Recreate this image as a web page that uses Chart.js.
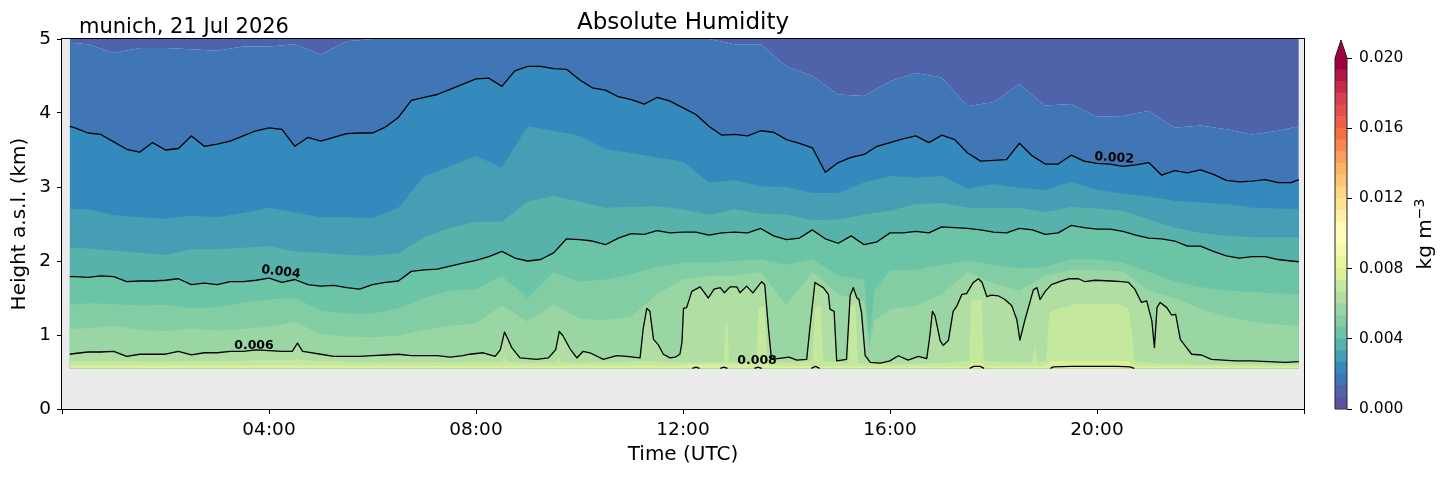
<!DOCTYPE html>
<html>
<head>
<meta charset="utf-8">
<title>Absolute Humidity</title>
<script src="https://cdn.jsdelivr.net/npm/chart.js@4.4.1/dist/chart.umd.min.js"></script>
<style>
body { margin: 0; background: #fff; font-family: 'DejaVu Sans', sans-serif; }
#page { position: relative; width: 1454px; height: 478px; overflow: hidden; }
#mainBox { position: absolute; left: 0; top: 0; width: 1366px; height: 478px; }
#cbBox { position: absolute; left: 1320px; top: 0; width: 134px; height: 478px; }
.txt { position: absolute; white-space: nowrap; color: #000; }
#title { left: 0; width: 1366px; text-align: center; top: 10px; font-size: 23px; line-height: 23px; }
#site { left: 79px; top: 15.6px; font-size: 21px; line-height: 21px; }
#cbLabel { left: 1324px; width: 200px; top: 223.5px; height: 20px; text-align: center; font-size: 20px; line-height: 20px; transform: rotate(-90deg); }
#cbLabel sup { font-size: 70%; line-height: 0; vertical-align: 0.5em; }
</style>
</head>
<body>
<div id="page">
  <div id="mainBox"><canvas id="main" width="1366" height="478"></canvas></div>
  <div id="cbBox"><canvas id="cbar" width="134" height="478"></canvas></div>
  <div class="txt" id="title">Absolute Humidity</div>
  <div class="txt" id="site">munich, 21 Jul 2026</div>
  <div class="txt" id="cbLabel">kg m<sup>−3</sup></div>
</div>
<script>
// station height, data below it is missing (km a.s.l.)
const groundKm = 0.55;

// filled contour levels of the colour bar (kg m-3)
const levels = [0, 0.00067, 0.00133, 0.002, 0.00267, 0.00333, 0.004, 0.00467, 0.00533, 0.006,
  0.00667, 0.00733, 0.008, 0.00867, 0.00933, 0.01, 0.01067, 0.01133, 0.012, 0.01267,
  0.01333, 0.014, 0.01467, 0.01533, 0.016, 0.01667, 0.01733, 0.018, 0.01867, 0.01933, 0.02];

// time axis (hours UTC)
const hoursFine = [0.15, 0.25, 0.5, 0.75,
  1, 1.25, 1.5, 1.75, 2, 2.25, 2.5, 2.75, 3, 3.25, 3.5, 3.75,
  4, 4.25, 4.5, 4.75, 5, 5.25, 5.5, 5.75, 6, 6.25, 6.5, 6.75,
  7, 7.25, 7.5, 7.75, 8, 8.25, 8.5, 8.75, 9, 9.25, 9.5, 9.75,
  10, 10.25, 10.5, 10.75, 11, 11.25, 11.5, 11.75, 12, 12.25, 12.5, 12.75,
  13, 13.25, 13.5, 13.75, 14, 14.25, 14.5, 14.75, 15, 15.25, 15.5, 15.75,
  16, 16.25, 16.5, 16.75, 17, 17.25, 17.5, 17.75, 18, 18.25, 18.5, 18.75,
  19, 19.25, 19.5, 19.75, 20, 20.25, 20.5, 20.75, 21, 21.25, 21.5, 21.75,
  22, 22.25, 22.5, 22.75, 23, 23.25, 23.5, 23.75,
  23.9];

const hoursCoarse = [0.15, 0.5, 1, 1.5, 2, 2.5, 3, 3.5, 4, 4.5,
  5, 5.5, 6, 6.5, 7, 7.5, 8, 8.5, 9, 9.5,
  10, 10.5, 11, 11.5, 12, 12.5, 13, 13.5, 14, 14.5,
  15, 15.5, 16, 16.5, 17, 17.5, 18, 18.5, 19, 19.5,
  20, 20.5, 21, 21.5, 22, 22.5, 23, 23.5, 23.9];

const hoursMid = [0.15, 0.5, 1, 1.5, 2, 2.5, 3, 3.5, 4, 4.5,
  5, 5.5, 6, 6.5, 7, 7.5, 8, 8.5, 9, 9.5,
  10, 10.5, 11, 11.5, 12, 12.5, 13, 13.5, 14, 14.5,
  15, 15.5, 15.6, 15.7, 16, 16.5, 17, 17.5, 18, 18.5,
  19, 19.5, 20, 20.5, 21, 21.5, 22, 22.5, 23, 23.5,
  23.9];

// contour heights (km) for each level
// 0.00133 (edge of the purple band)
const edge2 = [4.95, 4.93, 4.81, 4.88, 4.88, 4.86, 4.84, 4.90, 4.90, 4.93,
  4.79, 4.97, 5.00, 5.00, 5.00, 5.00, 5.00, 5.00, 5.00, 5.00,
  5.00, 5.00, 5.00, 5.00, 5.00, 5.00, 4.93, 4.93, 4.63, 4.50,
  4.25, 4.23, 4.43, 4.54, 4.48, 4.09, 4.15, 4.39, 4.10, 4.12,
  3.95, 3.96, 4.03, 3.80, 3.83, 3.78, 3.71, 3.76, 3.82];

// 0.002 (black line)
const level002 = [3.82, 3.80, 3.73, 3.71,
  3.61, 3.51, 3.47, 3.60, 3.50, 3.52, 3.69, 3.55, 3.58, 3.62, 3.69, 3.76,
  3.80, 3.78, 3.55, 3.67, 3.62, 3.67, 3.72, 3.73, 3.73, 3.81, 3.94, 4.17,
  4.21, 4.25, 4.32, 4.39, 4.46, 4.47, 4.36, 4.57, 4.63, 4.63, 4.60, 4.59,
  4.45, 4.34, 4.31, 4.22, 4.18, 4.12, 4.21, 4.16, 4.07, 3.98, 3.82, 3.70,
  3.71, 3.69, 3.76, 3.74, 3.64, 3.59, 3.53, 3.20, 3.33, 3.40, 3.44, 3.55,
  3.60, 3.65, 3.69, 3.60, 3.70, 3.64, 3.46, 3.35, 3.36, 3.37, 3.59, 3.42,
  3.31, 3.31, 3.43, 3.35, 3.32, 3.31, 3.28, 3.30, 3.33, 3.16, 3.22, 3.19,
  3.23, 3.17, 3.09, 3.07, 3.08, 3.10, 3.06, 3.06,
  3.10];

// 0.00267
const edge4 = [2.70, 2.70, 2.62, 2.59, 2.57, 2.61, 2.59, 2.65, 2.72, 2.66,
  2.59, 2.59, 2.58, 2.72, 3.15, 3.28, 3.42, 3.26, 3.82, 3.76,
  3.69, 3.51, 3.46, 3.40, 3.34, 3.06, 3.09, 3.01, 3.00, 2.92,
  2.92, 3.06, 3.15, 3.13, 3.15, 2.98, 3.04, 2.99, 2.96, 3.07,
  2.96, 2.91, 2.87, 2.81, 2.79, 2.77, 2.72, 2.71, 2.70];

// 0.00333
const edge5 = [2.18, 2.17, 2.14, 2.11, 2.08, 2.16, 2.16, 2.18, 2.20, 2.13,
  2.11, 2.08, 2.07, 2.10, 2.32, 2.45, 2.53, 2.53, 2.80, 2.88,
  2.80, 2.72, 2.73, 2.74, 2.70, 2.62, 2.70, 2.64, 2.63, 2.55,
  2.56, 2.63, 2.68, 2.77, 2.78, 2.72, 2.72, 2.72, 2.66, 2.73,
  2.71, 2.68, 2.56, 2.45, 2.38, 2.34, 2.32, 2.32, 2.32];

// 0.004 (black line)
const level004 = [1.79, 1.79, 1.78, 1.80,
  1.79, 1.72, 1.73, 1.73, 1.74, 1.76, 1.68, 1.70, 1.68, 1.72, 1.72, 1.74,
  1.77, 1.71, 1.75, 1.68, 1.66, 1.67, 1.64, 1.62, 1.68, 1.71, 1.73, 1.86,
  1.88, 1.89, 1.93, 1.97, 2.01, 2.06, 2.13, 2.04, 2.00, 2.02, 2.11, 2.30,
  2.29, 2.27, 2.22, 2.31, 2.37, 2.36, 2.41, 2.38, 2.39, 2.39, 2.35, 2.38,
  2.39, 2.38, 2.44, 2.34, 2.29, 2.31, 2.42, 2.30, 2.24, 2.34, 2.22, 2.26,
  2.38, 2.38, 2.40, 2.38, 2.46, 2.45, 2.44, 2.42, 2.39, 2.38, 2.44, 2.42,
  2.36, 2.38, 2.48, 2.45, 2.43, 2.43, 2.40, 2.35, 2.31, 2.30, 2.27, 2.20,
  2.20, 2.13, 2.07, 2.04, 2.06, 2.06, 2.02, 2.00,
  1.99];

// 0.00467
const edge7 = [1.41, 1.43, 1.42, 1.40, 1.41, 1.36, 1.38, 1.44, 1.48, 1.50,
  1.33, 1.29, 1.29, 1.36, 1.50, 1.60, 1.62, 1.80, 1.50, 1.85,
  1.72, 1.75, 1.82, 1.92, 1.98, 1.98, 2.00, 2.02, 1.95, 2.02,
  1.80, 1.75, 0.95, 1.60, 1.88, 1.88, 1.95, 2.00, 1.95, 1.90,
  1.92, 2.02, 2.02, 1.98, 1.85, 1.72, 1.65, 1.60, 1.58, 1.56,
  1.55];

// 0.00533
const edge8 = [1.08, 1.09, 1.12, 1.07, 1.05, 1.09, 1.06, 1.08, 1.11, 1.18,
  1.01, 0.98, 0.97, 0.99, 1.07, 1.12, 1.16, 1.40, 1.18, 1.42,
  1.22, 1.20, 1.25, 1.55, 1.75, 1.80, 1.80, 1.85, 1.40, 1.85,
  1.55, 1.45, 0.80, 1.20, 1.35, 1.40, 1.55, 1.85, 1.70, 1.60,
  1.80, 1.88, 1.88, 1.86, 1.60, 1.50, 1.35, 1.25, 1.18, 1.14,
  1.13];

// 0.006 (black line)
const hours006 = [0.15, 0.25, 0.5, 0.75, 1, 1.25, 1.5, 1.75, 2, 2.25,
  2.5, 2.75, 3, 3.25, 3.5, 3.75, 4, 4.25, 4.45, 4.55,
  4.65, 4.75, 5, 5.25, 5.5, 5.75, 6, 6.25, 6.5, 6.75,
  7, 7.25, 7.5, 7.75,
  7.88, 8.14, 8.37, 8.47, 8.55, 8.62, 8.69, 8.85, 9.17, 9.4,
  9.54, 9.61, 9.68, 9.82, 9.95, 10.07, 10.2, 10.46, 10.72, 10.91,
  11.17, 11.23, 11.3, 11.36, 11.43, 11.52, 11.62, 11.75, 11.85, 11.94,
  11.98, 12.01, 12.07, 12.17, 12.33, 12.49, 12.6, 12.72, 12.8, 12.91,
  13.04, 13.1, 13.23, 13.35, 13.52, 13.58, 13.65, 13.71, 14.05, 14.2,
  14.39, 14.45, 14.55, 14.71, 14.81, 14.84, 14.92, 14.97, 15.16, 15.23,
  15.29, 15.36, 15.4, 15.45, 15.52, 15.62, 15.81, 16, 16.16, 16.35,
  16.55, 16.71, 16.77, 16.82, 16.87, 16.97, 17.03, 17.13, 17.22, 17.29,
  17.39, 17.48, 17.61, 17.71, 17.78, 17.87, 17.96, 18.09, 18.22, 18.35,
  18.45, 18.51, 18.61, 18.77, 18.84, 18.9, 19, 19.12, 19.32, 19.45,
  19.64, 19.77, 19.96, 20.28, 20.48, 20.61, 20.73, 20.86, 20.96, 21.06,
  21.11, 21.16, 21.22, 21.35, 21.44, 21.52, 21.61, 21.73, 21.83, 22.02,
  22.21, 22.67, 22.99, 23.31, 23.64, 23.9];
const level006 = [0.74, 0.75, 0.77, 0.77, 0.78, 0.71, 0.74, 0.74, 0.74, 0.78,
  0.73, 0.76, 0.76, 0.78, 0.78, 0.80, 0.79, 0.78, 0.78, 0.89,
  0.78, 0.77, 0.74, 0.71, 0.71, 0.71, 0.72, 0.73, 0.74, 0.72,
  0.72, 0.72, 0.70, 0.72,
  0.74, 0.76, 0.71, 0.80, 1.04, 0.94, 0.83, 0.69, 0.67, 0.69,
  0.80, 1.05, 0.99, 0.81, 0.69, 0.78, 0.76, 0.67, 0.72, 0.71,
  0.69, 1.08, 1.36, 1.32, 0.94, 0.87, 0.74, 0.69, 0.70, 0.74,
  0.90, 1.36, 1.37, 1.59, 1.65, 1.50, 1.62, 1.64, 1.57, 1.65,
  1.65, 1.57, 1.66, 1.57, 1.72, 1.68, 1.10, 0.67, 0.70, 0.66,
  0.67, 1.08, 1.71, 1.64, 1.55, 1.35, 1.32, 0.65, 0.67, 1.53,
  1.64, 1.50, 1.48, 1.30, 0.72, 0.63, 0.62, 0.65, 0.72, 0.66,
  0.71, 0.68, 0.99, 1.32, 1.26, 0.92, 0.86, 0.93, 1.32, 1.39,
  1.55, 1.56, 1.71, 1.76, 1.71, 1.52, 1.54, 1.53, 1.48, 1.40,
  1.21, 0.93, 1.21, 1.61, 1.64, 1.48, 1.59, 1.68, 1.73, 1.76,
  1.76, 1.72, 1.74, 1.73, 1.72, 1.71, 1.62, 1.44, 1.46, 1.19,
  0.83, 1.37, 1.44, 1.37, 1.27, 1.28, 0.94, 0.83, 0.74, 0.73,
  0.67, 0.65, 0.65, 0.64, 0.63, 0.64];

// 0.00667
const hours10 = [0.15, 2, 4, 4.5, 4.55, 4.6, 6, 8, 8.5, 8.55,
  8.6, 9, 9.55, 9.6, 9.65, 10, 11.3, 12, 12.79, 12.82,
  12.86, 12.89, 13.42, 13.46, 13.58, 13.62, 14, 14.5, 14.55, 14.66,
  14.71, 15.19, 15.24, 15.33, 15.38, 16, 17, 17.53, 17.57, 17.77,
  17.81, 18.74, 18.8, 18.86, 19.02, 19.08, 19.2, 19.4, 19.6, 20,
  20.4, 20.6, 20.68, 20.72, 21, 22, 23.9];
const edge10 = [0.65, 0.64, 0.66, 0.66, 0.70, 0.66, 0.63, 0.64, 0.64, 0.70,
  0.64, 0.62, 0.63, 0.70, 0.63, 0.62, 0.65, 0.63, 0.63, 1.16,
  1.16, 0.63, 0.65, 1.38, 1.38, 0.65, 0.62, 0.65, 1.38, 1.38,
  0.65, 0.62, 1.40, 1.40, 0.62, 0.60, 0.62, 0.65, 1.47, 1.47,
  0.65, 0.63, 0.84, 0.63, 0.66, 1.30, 1.34, 1.38, 1.42, 1.42,
  1.42, 1.36, 1.00, 0.66, 0.62, 0.60, 0.60];

// 0.00733
const hours11 = [0.15, 4, 8, 12, 12.1, 13.6, 13.7, 16, 17.5, 17.58,
  17.78, 17.85, 19, 19.1, 20.6, 20.72, 22, 23.9];
const edge11 = [0.585, 0.59, 0.58, 0.585, 0.60, 0.60, 0.58, 0.575, 0.575, 0.62,
  0.62, 0.575, 0.58, 0.645, 0.65, 0.58, 0.575, 0.575];

// 0.008 (black line, only small pieces near the ground)
const hours008 = [12.18, 12.25, 12.32, 12.5, 12.72, 12.79, 12.86, 13.1, 13.38, 13.45,
  13.52, 14, 14.48, 14.56, 14.64, 16, 17.54, 17.62, 17.74, 17.82,
  18.5, 19.1, 19.16, 19.5, 20, 20.4, 20.64, 20.72];
const level008 = [0.55, 0.565, 0.55, null, 0.55, 0.565, 0.55, null, 0.55, 0.565,
  0.55, null, 0.55, 0.575, 0.55, null, 0.55, 0.575, 0.575, 0.55,
  null, 0.55, 0.57, 0.575, 0.575, 0.575, 0.57, 0.55];

// inline contour labels
const labelText = ['0.002', '0.004', '0.006', '0.008'];
const labelHours = [20.33, 4.23, 3.71, 13.43];
const labelKm = [3.39, 1.85, 0.85, 0.65];
const labelAngle = [4, 7, 0, 0];

const fontFamily = "'DejaVu Sans'";
Chart.defaults.color = '#000';
Chart.defaults.font.family = fontFamily;

// Spectral_r colour map
const spectral = [[158,1,66],[213,62,79],[244,109,67],[253,174,97],[254,224,139],[255,255,191],
  [230,245,152],[171,221,164],[102,194,165],[50,136,189],[94,79,162]];
function spectralR(t) {
  const s = (1 - t) * 10;
  const i = Math.min(9, Math.floor(s));
  const f = s - i;
  const a = spectral[i], b = spectral[i + 1];
  const c = a.map((v, k) => Math.round(v + (b[k] - v) * f));
  return 'rgb(' + c.join(',') + ')';
}
function bandColor(i) {
  return spectralR(i / (levels.length - 2));
}

function points(hours, km) {
  return hours.map((h, i) => ({ x: h, y: km[i] }));
}

// band index -> the contour that is its upper edge
const bands = [
  { band: 1, hours: hoursCoarse, km: edge2, fill: 'end' },
  { band: 2, hours: hoursCoarse, km: edge2 },
  { band: 3, hours: hoursFine, km: level002 },
  { band: 4, hours: hoursCoarse, km: edge4 },
  { band: 5, hours: hoursCoarse, km: edge5 },
  { band: 6, hours: hoursFine, km: level004 },
  { band: 7, hours: hoursMid, km: edge7 },
  { band: 8, hours: hoursMid, km: edge8 },
  { band: 9, hours: hours006, km: level006 },
  { band: 10, hours: hours10, km: edge10 },
  { band: 11, hours: hours11, km: edge11 },
  { band: 12, hours: hours008, km: level008 }
];
const lines = [
  [hoursFine, level002], [hoursFine, level004], [hours006, level006], [hours008, level008]
];

const datasets = [];
bands.forEach(b => {
  datasets.push({
    data: points(b.hours, b.km),
    fill: b.fill || { value: groundKm },
    backgroundColor: bandColor(b.band),
    borderColor: 'rgba(0,0,0,0)',
    borderWidth: 1,
    order: 100 - b.band
  });
});
lines.forEach(l => {
  datasets.push({
    data: points(l[0], l[1]),
    fill: false,
    borderColor: '#000',
    borderWidth: 1.3,
    borderJoinStyle: 'round',
    order: 0
  });
});

const plotBackground = {
  id: 'plotBackground',
  beforeDraw(chart) {
    const { ctx, chartArea: a } = chart;
    ctx.save();
    ctx.fillStyle = '#ebebeb';
    ctx.fillRect(a.left, a.top, a.right - a.left, a.bottom - a.top);
    ctx.restore();
  }
};

const plotFrame = {
  id: 'plotFrame',
  afterDatasetsDraw(chart) {
    const { ctx, chartArea: a, scales: { x, y } } = chart;
    ctx.save();
    ctx.font = "bold 12.5px " + fontFamily;
    ctx.fillStyle = '#000';
    ctx.textAlign = 'center';
    ctx.textBaseline = 'middle';
    labelText.forEach((t, i) => {
      ctx.save();
      ctx.translate(x.getPixelForValue(labelHours[i]), y.getPixelForValue(labelKm[i]));
      ctx.rotate(labelAngle[i] * Math.PI / 180);
      ctx.fillText(t, 0, 0);
      ctx.restore();
    });
    ctx.strokeStyle = '#000';
    ctx.lineWidth = 1;
    ctx.strokeRect(a.left - 0.5, a.top - 0.5, a.right - a.left + 1, a.bottom - a.top + 1);
    ctx.restore();
  }
};

new Chart(document.getElementById('main'), {
  type: 'line',
  data: { datasets: datasets },
  options: {
    responsive: false,
    animation: false,
    events: [],
    layout: { padding: { top: 39, right: 62, left: 0, bottom: 0 } },
    elements: { point: { radius: 0 }, line: { tension: 0 } },
    plugins: { legend: { display: false }, tooltip: { enabled: false } },
    scales: {
      x: {
        type: 'linear', min: 0, max: 24,
        afterFit: s => { s.height = 69; },
        ticks: {
          stepSize: 4, autoSkip: false, maxRotation: 0, padding: 5,
          font: { size: 18.5 },
          callback: v => (v > 0 && v < 24) ? String(v).padStart(2, '0') + ':00' : ''
        },
        grid: { drawOnChartArea: false, tickLength: 5, color: '#000' },
        border: { display: false },
        title: { display: true, text: 'Time (UTC)', font: { size: 20 }, padding: { top: 0, bottom: 11 } }
      },
      y: {
        min: 0, max: 5,
        afterFit: s => { s.width = 62; },
        ticks: { stepSize: 1, padding: 6, font: { size: 18.5 } },
        grid: { drawOnChartArea: false, tickLength: 5, color: '#000' },
        border: { display: false },
        title: { display: true, text: 'Height a.s.l. (km)', font: { size: 20 }, padding: { top: 8, bottom: 0 } }
      }
    }
  },
  plugins: [plotBackground, plotFrame]
});

// colour bar
const cbOutline = {
  id: 'cbOutline',
  afterDraw(chart) {
    const { ctx, chartArea: a } = chart;
    const tip = a.top - 18;
    const mid = (a.left + a.right) / 2;
    ctx.save();
    ctx.beginPath();
    ctx.moveTo(a.left, a.top);
    ctx.lineTo(mid, tip);
    ctx.lineTo(a.right, a.top);
    ctx.closePath();
    ctx.fillStyle = spectralR(1);
    ctx.fill();
    ctx.beginPath();
    ctx.moveTo(a.left, a.bottom);
    ctx.lineTo(a.left, a.top);
    ctx.lineTo(mid, tip);
    ctx.lineTo(a.right, a.top);
    ctx.lineTo(a.right, a.bottom);
    ctx.closePath();
    ctx.strokeStyle = '#222';
    ctx.lineWidth = 1;
    ctx.stroke();
    ctx.restore();
  }
};

const cbDatasets = levels.slice(0, -1).map((lo, i) => ({
  data: [[lo, levels[i + 1]]],
  backgroundColor: bandColor(i),
  borderWidth: 0,
  barPercentage: 1,
  categoryPercentage: 1,
  grouped: false
}));

new Chart(document.getElementById('cbar'), {
  type: 'bar',
  data: { labels: [''], datasets: cbDatasets },
  options: {
    responsive: false,
    animation: false,
    events: [],
    layout: { padding: { left: 15, top: 58, bottom: 69, right: 0 } },
    plugins: { legend: { display: false }, tooltip: { enabled: false } },
    scales: {
      x: { display: false },
      y: {
        position: 'right', min: 0, max: 0.02,
        afterFit: s => { s.width = 107; },
        ticks: { stepSize: 0.004, padding: 7, font: { size: 15.5 }, callback: v => v.toFixed(3) },
        grid: { drawOnChartArea: false, tickLength: 5, color: '#000' },
        border: { display: false }
      }
    }
  },
  plugins: [cbOutline]
});
</script>
</body>
</html>
